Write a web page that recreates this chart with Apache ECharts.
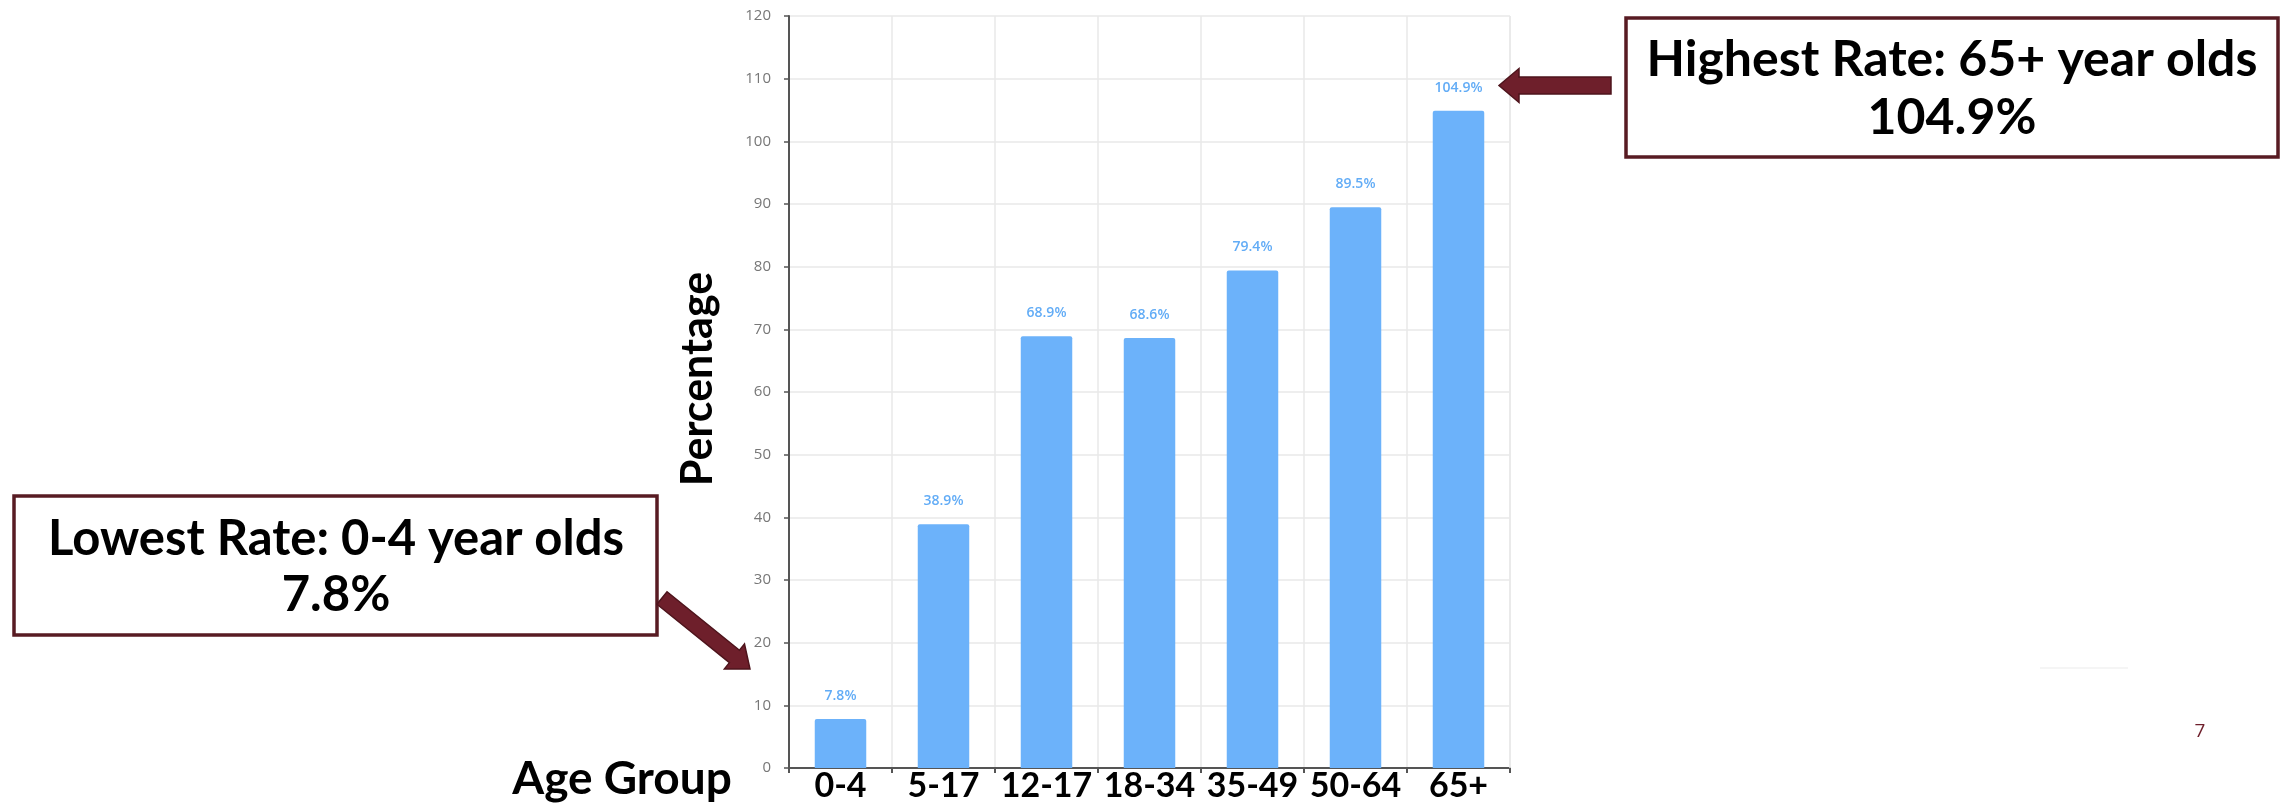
<!DOCTYPE html>
<html>
<head>
<meta charset="utf-8">
<script src="https://cdn.jsdelivr.net/npm/echarts@6/dist/echarts.min.js"></script>
<style>
html,body{margin:0;padding:0;background:#fff;}
#chart{width:2285px;height:803px;}
</style>
</head>
<body>
<div id="chart"></div>
<script>
const categories = ['0-4', '5-17', '12-17', '18-34', '35-49', '50-64', '65+'];
const values = [7.8, 38.9, 68.9, 68.6, 79.4, 89.5, 104.9];
const yTicks = {min: 0, max: 120, interval: 10};
const xAxisTitle = 'Age Group';
const yAxisTitle = 'Percentage';
const highNote = ['Highest Rate: 65+ year olds', '104.9%'];
const lowNote = ['Lowest Rate: 0-4 year olds', '7.8%'];
const pageNumber = '7';

const maroon = '#6e1f2b';
const maroonDark = '#4e141c';
const bold = 'Lato';

function arrowPoints(tail, tip, shaftW, headW, headL) {
  const dx = tip[0] - tail[0], dy = tip[1] - tail[1];
  const len = Math.sqrt(dx * dx + dy * dy);
  const ux = dx / len, uy = dy / len;
  const nx = -uy, ny = ux;
  const bx = tip[0] - ux * headL, by = tip[1] - uy * headL;
  const s = shaftW / 2, h = headW / 2;
  return [
    [tail[0] + nx * s, tail[1] + ny * s],
    [bx + nx * s, by + ny * s],
    [bx + nx * h, by + ny * h],
    [tip[0], tip[1]],
    [bx - nx * h, by - ny * h],
    [bx - nx * s, by - ny * s],
    [tail[0] - nx * s, tail[1] - ny * s]
  ];
}

function noteText(x, y, text, size) {
  return {
    type: 'text', x: x, y: y, z: 10,
    style: {text: text, fill: '#000', font: 'bold ' + size + 'px ' + bold, align: 'center', verticalAlign: 'middle'}
  };
}

const chart = echarts.init(document.getElementById('chart'));
chart.setOption({
  animation: false,
  backgroundColor: '#fff',
  grid: {left: 789, top: 16, right: 775, bottom: 35, containLabel: false},
  xAxis: {
    type: 'category',
    data: categories,
    boundaryGap: true,
    axisLine: {show: true, lineStyle: {color: '#555', width: 2}},
    axisTick: {show: true, alignWithLabel: false, length: 5, lineStyle: {color: '#555', width: 2}},
    axisLabel: {color: '#000', fontFamily: bold, fontWeight: 'bold', fontSize: 34, margin: 1, interval: 0},
    splitLine: {show: true, lineStyle: {color: '#e9e9e9', width: 1.5}}
  },
  yAxis: {
    type: 'value',
    min: yTicks.min, max: yTicks.max, interval: yTicks.interval,
    axisLine: {show: true, lineStyle: {color: '#555', width: 2}},
    axisTick: {show: true, length: 5, lineStyle: {color: '#555', width: 1.5}},
    axisLabel: {color: '#777', fontFamily: 'Open Sans', fontSize: 15, margin: 18},
    splitLine: {show: true, lineStyle: {color: '#e9e9e9', width: 1.5}}
  },
  series: [{
    type: 'bar',
    data: values,
    barWidth: '50%',
    itemStyle: {color: '#6cb2fa', borderRadius: [2, 2, 0, 0]},
    label: {
      show: true, position: 'top', distance: 16,
      formatter: '{c}%', color: '#62acf6', fontFamily: 'Open Sans', fontWeight: 600, fontSize: 14
    }
  }],
  graphic: [
    {type: 'line', shape: {x1: 1510, y1: 16, x2: 1510, y2: 768}, style: {stroke: '#e9e9e9', lineWidth: 1.5}, z: 1},
    {type: 'text', x: 622, y: 779, style: {text: xAxisTitle, fill: '#000', font: 'bold 46px ' + bold, align: 'center', verticalAlign: 'middle'}},
    {type: 'text', x: 698, y: 379, rotation: Math.PI / 2, style: {text: yAxisTitle, fill: '#000', font: 'bold 43px ' + bold, align: 'center', verticalAlign: 'middle'}},
    {type: 'rect', shape: {x: 1626, y: 18, width: 652, height: 139}, style: {fill: '#fff', stroke: '#581b23', lineWidth: 3.5}, z: 5},
    noteText(1952, 60, highNote[0], 50),
    noteText(1952, 118, highNote[1], 50),
    {type: 'polygon', shape: {points: arrowPoints([1611, 85.5], [1499, 85.5], 17, 34, 20)}, style: {fill: maroon, stroke: maroonDark, lineWidth: 1.5}, z: 6},
    {type: 'rect', shape: {x: 14, y: 496, width: 643, height: 139}, style: {fill: '#fff', stroke: '#581b23', lineWidth: 3.5}, z: 5},
    noteText(336, 539, lowNote[0], 49),
    noteText(336, 595, lowNote[1], 49),
    {type: 'polygon', shape: {points: arrowPoints([662, 598], [750, 669], 16, 32, 20)}, style: {fill: maroon, stroke: maroonDark, lineWidth: 1.5}, z: 6},
    {type: 'line', shape: {x1: 2040, y1: 668, x2: 2128, y2: 668}, style: {stroke: '#f2f2f2', lineWidth: 1.5}},
    {type: 'text', x: 2200, y: 732, style: {text: pageNumber, fill: maroon, font: '19px "Open Sans"', align: 'center', verticalAlign: 'middle'}}
  ]
});
</script>
</body>
</html>
